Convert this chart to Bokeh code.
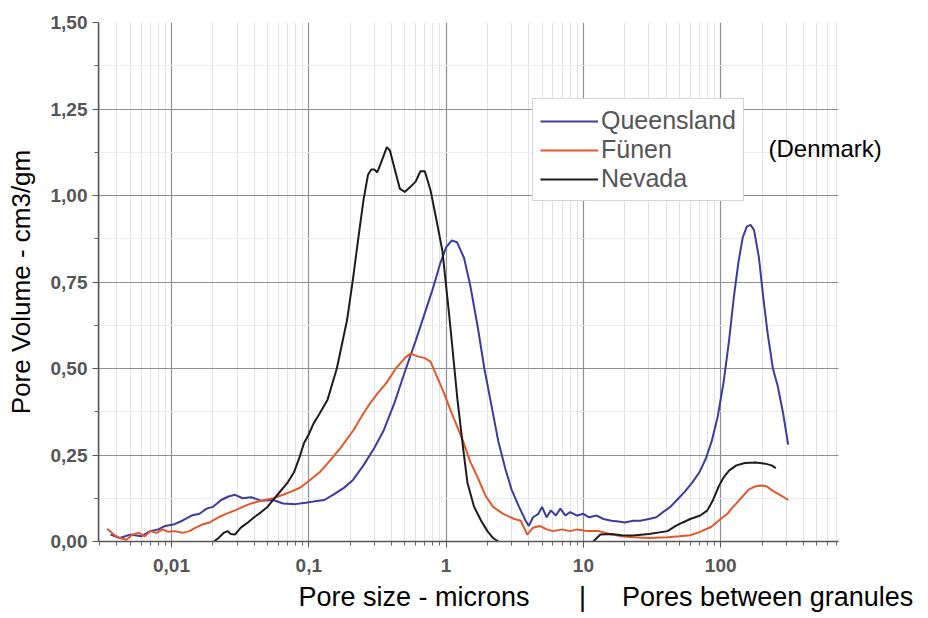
import numpy as np
from bokeh.plotting import figure
from bokeh.models import (FixedTicker, CustomJSTickFormatter, Label, Legend, LegendItem,
                          Range1d, ColumnDataSource, Title, Grid)
from bokeh.embed import file_html
from bokeh.resources import INLINE

# ---------------- data ----------------
queensland_x = [0.0036, 0.0042, 0.005, 0.006, 0.007, 0.008, 0.009, 0.0105, 0.012, 0.014, 0.016, 0.018,
                0.02, 0.023, 0.026, 0.029, 0.033, 0.038, 0.045, 0.055, 0.065, 0.08, 0.095, 0.11, 0.13,
                0.15, 0.18, 0.21, 0.25, 0.3, 0.35, 0.42, 0.5, 0.6, 0.7, 0.8, 0.9, 1.0, 1.1, 1.2, 1.35,
                1.5, 1.7, 1.9, 2.1, 2.4, 2.7, 3.0, 3.4, 3.8, 4.0, 4.3, 4.7, 5.0, 5.4, 5.8, 6.3, 6.8,
                7.4, 8.0, 9, 10, 11, 12.5, 14, 16, 18, 20, 23, 26, 30, 34, 38, 43, 48, 55, 62, 70, 78,
                86, 95, 105, 115, 125, 135, 145, 155, 165, 175, 190, 205, 220, 240, 260, 285, 310]
queensland_y = [0.02, 0.01, 0.02, 0.015, 0.03, 0.035, 0.045, 0.05, 0.06, 0.075, 0.08, 0.095,
                0.10, 0.12, 0.13, 0.135, 0.125, 0.128, 0.118, 0.12, 0.11, 0.108, 0.112, 0.116, 0.12,
                0.135, 0.155, 0.178, 0.22, 0.27, 0.32, 0.40, 0.49, 0.58, 0.66, 0.73, 0.80, 0.85, 0.87,
                0.865, 0.82, 0.74, 0.62, 0.50, 0.41, 0.29, 0.21, 0.15, 0.10, 0.06, 0.045, 0.07, 0.08,
                0.10, 0.07, 0.09, 0.075, 0.095, 0.075, 0.085, 0.075, 0.08, 0.07, 0.075, 0.065, 0.06,
                0.058, 0.055, 0.06, 0.06, 0.065, 0.07, 0.085, 0.10, 0.12, 0.145, 0.17, 0.20, 0.24,
                0.29, 0.36, 0.46, 0.58, 0.71, 0.81, 0.88, 0.91, 0.915, 0.90, 0.82, 0.70, 0.60, 0.50,
                0.45, 0.37, 0.28]

funen_x = [0.0034, 0.0038, 0.0042, 0.0047, 0.0052, 0.0058, 0.0064, 0.007, 0.0078, 0.0086, 0.0095,
           0.0105, 0.012, 0.0135, 0.015, 0.017, 0.019, 0.022, 0.025, 0.029, 0.033, 0.038, 0.045,
           0.055, 0.065, 0.075, 0.087, 0.1, 0.12, 0.14, 0.17, 0.21, 0.25, 0.28, 0.32, 0.37, 0.43,
           0.5, 0.55, 0.62, 0.7, 0.77, 0.85, 0.95, 1.1, 1.33, 1.5, 1.7, 1.95, 2.2, 2.6, 3.1, 3.5,
           3.9, 4.3, 4.8, 5.4, 6.0, 7, 8, 9, 10.7, 13, 16, 19, 23, 30, 41, 50, 60, 70, 85, 100,
           112, 120, 130, 148, 160, 175, 195, 215, 243, 270, 311]
funen_y = [0.037, 0.02, 0.01, 0.005, 0.02, 0.025, 0.015, 0.03, 0.025, 0.035, 0.028,
           0.03, 0.025, 0.03, 0.04, 0.05, 0.055, 0.07, 0.08, 0.09, 0.10, 0.11, 0.118,
           0.125, 0.135, 0.145, 0.156, 0.175, 0.20, 0.23, 0.27, 0.32, 0.37, 0.40, 0.43, 0.46, 0.50,
           0.53, 0.543, 0.535, 0.53, 0.52, 0.48, 0.436, 0.37, 0.29, 0.23, 0.185, 0.13, 0.10, 0.08,
           0.066, 0.06, 0.02, 0.04, 0.045, 0.035, 0.03, 0.035, 0.03, 0.035, 0.03, 0.03, 0.02, 0.015,
           0.012, 0.01, 0.012, 0.015, 0.018, 0.027, 0.042, 0.065, 0.08, 0.095, 0.11, 0.135, 0.15,
           0.158, 0.162, 0.16, 0.145, 0.135, 0.12]

nevada_x = [0.0204, 0.022, 0.024, 0.0256, 0.027, 0.029, 0.032, 0.036, 0.04, 0.045, 0.05, 0.055, 0.06,
            0.07, 0.078, 0.085, 0.092, 0.1, 0.108, 0.12, 0.137, 0.16, 0.19, 0.21, 0.23, 0.25, 0.27,
            0.285, 0.3, 0.315, 0.34, 0.37, 0.39, 0.42, 0.46, 0.5, 0.55, 0.6, 0.65, 0.7, 0.77, 0.85,
            0.94, 1.05, 1.15, 1.21, 1.34, 1.43, 1.6, 1.8, 2.0, 2.2, 2.4, np.nan, 11.8, 13.3, 16, 19,
            23, 30, 41, 47, 53, 60, 71, 80, 88, 97, 105, 115, 130, 150, 180, 210, 235, 252]
nevada_y = [0.0, 0.01, 0.025, 0.03, 0.022, 0.02, 0.04, 0.055, 0.07, 0.085, 0.10, 0.12, 0.138,
            0.17, 0.20, 0.24, 0.283, 0.31, 0.34, 0.37, 0.41, 0.50, 0.64, 0.76, 0.88, 0.986, 1.06,
            1.075, 1.075, 1.067, 1.10, 1.14, 1.13, 1.08, 1.02, 1.01, 1.025, 1.04, 1.07, 1.07, 1.015,
            0.93, 0.84, 0.66, 0.50, 0.41, 0.26, 0.17, 0.10, 0.06, 0.03, 0.01, 0.0, np.nan, 0.0, 0.02,
            0.022, 0.018, 0.017, 0.022, 0.03, 0.045, 0.055, 0.065, 0.075, 0.09, 0.12, 0.16, 0.185,
            0.205, 0.22, 0.227, 0.228, 0.225, 0.22, 0.212]

x_major_ticks = [0.01, 0.1, 1, 10, 100]
y_major_ticks = [0.0, 0.25, 0.5, 0.75, 1.0, 1.25, 1.5]

series_names = ["Queensland", "Fünen", "Nevada"]
series_colors = ["#3c3c9e", "#e0592c", "#1c1c1c"]

x_title = "Pore size - microns\u2003\u2002\u2004|\u2003\u2005\u200aPores between granules"
note_text = "(Denmark)"

# axis extent (data) and extra room on the right for the note
X_START, X_END = 0.00294, 721
X_FRAME_END = 1725

# ---------------- figure ----------------
FONT = "Liberation Sans"
p = figure(width=920, height=618, x_axis_type="log", output_backend="svg",
           toolbar_location=None, x_range=Range1d(X_START, X_FRAME_END), y_range=Range1d(0, 1.5),
           min_border_left=98, min_border_top=22, min_border_right=30, min_border_bottom=77)
p.outline_line_color = None
p.background_fill_color = "white"

x_minor = [m * 10.0 ** e for e in range(-3, 3) for m in range(2, 10) if m * 10.0 ** e < X_END]
y_minor = [t + 0.125 for t in y_major_ticks[:-1]]

p.xaxis.ticker = FixedTicker(ticks=x_major_ticks, minor_ticks=x_minor)
p.yaxis.ticker = FixedTicker(ticks=y_major_ticks, minor_ticks=y_minor)
p.xaxis.formatter = CustomJSTickFormatter(code="return tick.toString().replace('.', ',');")
p.yaxis.formatter = CustomJSTickFormatter(code="return tick.toFixed(2).replace('.', ',');")
p.xaxis.bounds = (X_START, X_END)

for ax in (p.xaxis[0], p.yaxis[0]):
    ax.axis_line_color = "#555555"
    ax.axis_line_width = 1.5
    ax.major_tick_line_color = "#555555"
    ax.minor_tick_line_color = "#666666"
    ax.major_tick_out = 6
    ax.major_tick_in = 0
    ax.minor_tick_out = 4
    ax.minor_tick_in = 0
    ax.major_label_text_font = FONT
    ax.major_label_text_font_style = "bold"
    ax.major_label_text_color = "#555555"
    ax.major_label_text_font_size = "19px"

p.yaxis.major_label_standoff = 5
p.xaxis.major_label_standoff = 11
p.yaxis.axis_label = "Pore Volume - cm3/gm"
p.yaxis.axis_label_text_font = FONT
p.yaxis.axis_label_text_font_style = "normal"
p.yaxis.axis_label_text_font_size = "26px"
p.yaxis.axis_label_text_color = "black"
p.yaxis.axis_label_standoff = 12

p.xgrid.grid_line_color = "#8e8e98"
p.ygrid.grid_line_color = "#8e8e98"
p.xgrid.grid_line_width = 1.2
p.ygrid.grid_line_width = 1.2
p.xgrid.minor_grid_line_color = "#e2e2e6"
p.ygrid.minor_grid_line_color = "#ececec"

has_cross_bounds = "cross_bounds" in Grid.properties()
if has_cross_bounds:
    p.ygrid.cross_bounds = (X_START, X_END)

renderers = []
for xs, ys, c in [(queensland_x, queensland_y, series_colors[0]),
                  (funen_x, funen_y, series_colors[1]),
                  (nevada_x, nevada_y, series_colors[2])]:
    src = ColumnDataSource(dict(x=xs, y=ys))
    r = p.line("x", "y", source=src, line_color=c, line_width=2)
    renderers.append(r)

if not has_cross_bounds:
    # blank out horizontal grid beyond the axis end
    p.quad(left=[X_END], right=[X_FRAME_END], bottom=[0], top=[1.5],
           fill_color="white", line_color=None, level="underlay")

legend = Legend(items=[LegendItem(label=n, renderers=[r]) for n, r in zip(series_names, renderers)],
                location=(434, 340))
legend.label_text_font = FONT
legend.label_text_font_size = "25px"
legend.label_text_color = "#555555"
legend.label_height = 28
legend.label_standoff = 3
legend.glyph_width = 58
legend.glyph_height = 28
legend.spacing = 0
legend.padding = 7
legend.margin = 0
legend.border_line_color = "#aaaaaa"
legend.border_line_width = 1.5
legend.background_fill_color = "white"
legend.background_fill_alpha = 1.0
p.add_layout(legend, "center")

# x title below the axis, shifted to where the reference has it
t = Title(text=x_title, align="left", offset=200, text_font=FONT, text_font_size="27px",
          text_font_style="normal", text_color="black", standoff=10, text_line_height=0.9)
p.add_layout(t, "below")

# note to the right of the legend (screen units, relative to frame)
p.add_layout(Label(x=670, y=393, x_units="screen", y_units="screen", text=note_text,
                   text_align="left", text_baseline="middle", text_font=FONT,
                   text_font_size="24px", text_color="black"))

open("out.html", "w").write(file_html(p, INLINE))
